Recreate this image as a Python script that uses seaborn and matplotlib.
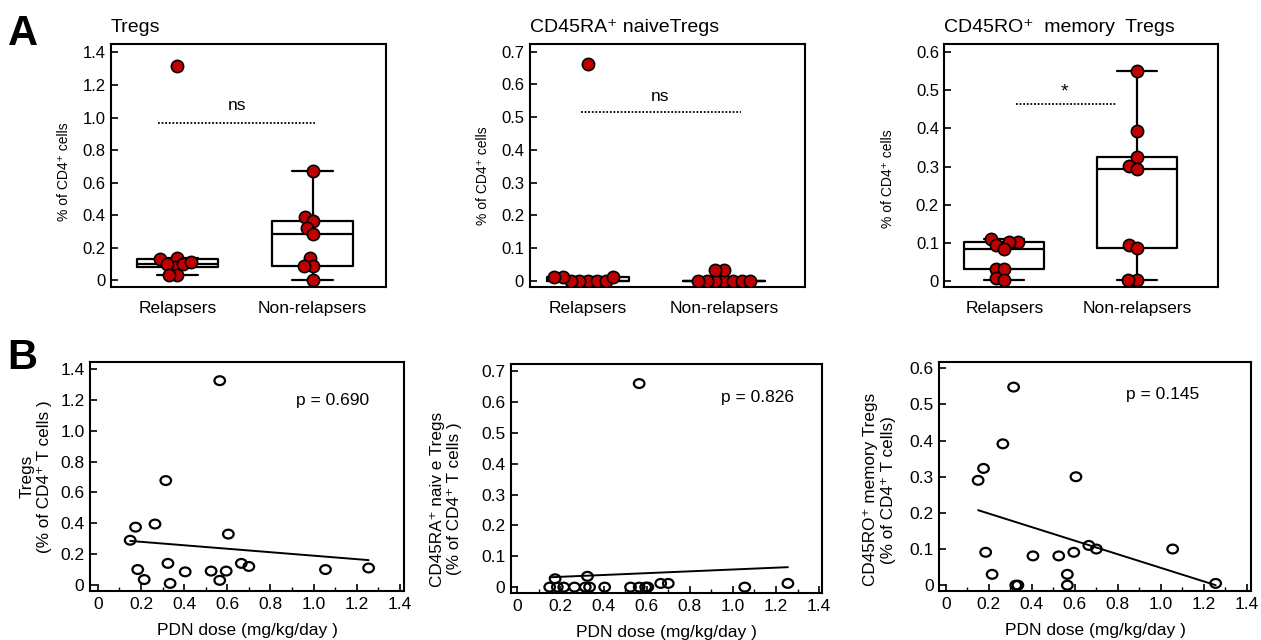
import numpy as np
import pandas as pd
import matplotlib
matplotlib.use("Agg")
import matplotlib.pyplot as plt
import seaborn as sns
from matplotlib.path import Path
from matplotlib.ticker import MultipleLocator, FuncFormatter

# ---- data ----
groups = ["Relapsers", "Non-relapsers"]

tregs_rel = [1.318, 0.129, 0.139, 0.080, 0.098, 0.098, 0.115, 0.031, 0.031]
tregs_non = [0.674, 0.389, 0.365, 0.320, 0.283, 0.139, 0.090, 0.090, 0.0]
naive_rel = [0.663, 0.0, 0.0, 0.0, 0.0, 0.0, 0.012, 0.012, 0.012]
naive_non = [0.0, 0.0, 0.0, 0.0, 0.0, 0.0, 0.0, 0.034, 0.034]
memory_rel = [0.112, 0.103, 0.103, 0.095, 0.085, 0.032, 0.032, 0.008, 0.003]
memory_non = [0.551, 0.392, 0.325, 0.303, 0.293, 0.095, 0.086, 0.003, 0.003]

pdn_dose = [0.15, 0.175, 0.185, 0.215, 0.265, 0.315, 0.325, 0.335, 0.405,
            0.525, 0.565, 0.565, 0.595, 0.605, 0.665, 0.70, 1.055, 1.255]
tregs_pdn = [0.29, 0.375, 0.10, 0.035, 0.395, 0.677, 0.14, 0.01, 0.085,
             0.09, 1.325, 0.03, 0.09, 0.33, 0.14, 0.12, 0.10, 0.11]
naive_pdn = [0.0, 0.027, 0.0, 0.0, 0.0, 0.0, 0.035, 0.0, 0.0,
             0.0, 0.66, 0.0, 0.0, 0.0, 0.012, 0.012, 0.0, 0.012]
memory_pdn = [0.29, 0.323, 0.091, 0.03, 0.391, 0.548, 0.0, 0.0, 0.081,
              0.081, 0.03, 0.0, 0.091, 0.30, 0.11, 0.10, 0.10, 0.005]

titles = ["Tregs", "CD45RA\u207a naiveTregs", "CD45RO\u207a  memory  Tregs"]
sig_labels = ["ns", "ns", "*"]
p_labels = ["p = 0.690", "p = 0.826", "p = 0.145"]
b_ylabels = ["Tregs\n(% of CD4\u207a T cells )",
             "CD45RA\u207a naiv e Tregs\n(% of CD4\u207a T cells )",
             "CD45RO\u207a memory Tregs\n(% of CD4\u207a T cells)"]

sns.set_theme(style="ticks")
plt.rcParams["font.family"] = ["Liberation Sans", "DejaVu Sans"]
plt.rcParams.update({
    "axes.linewidth": 1.5,
    "axes.edgecolor": "black",
    "text.color": "black",
    "axes.labelcolor": "black",
    "xtick.color": "black",
    "ytick.color": "black",
})

RED = "#c00000"


def num_fmt(v, pos=None):
    return "0" if abs(v) < 1e-9 else f"{v:.1f}"


fig = plt.figure(figsize=(12.61, 6.40), dpi=100)

# panel A layout (left, bottom, width, height) and axis settings
a_rects = [(0.088, 0.552, 0.218, 0.380),
           (0.420, 0.552, 0.218, 0.380),
           (0.749, 0.552, 0.217, 0.380)]
a_ylims = [(-0.04, 1.455), (-0.018, 0.725), (-0.014, 0.622)]
a_xlims = [(-0.49, 1.54), (-0.43, 1.59), (-0.45, 1.61)]
a_steps = [0.2, 0.1, 0.1]
a_ylab = [(8, 0.473), (8, 0.457), (15, 0.444)]  # labelpad, y position
a_sig = [(-0.14, 1.02, 0.965, 0.44, 1.03),
         (-0.05, 1.12, 0.517, 0.53, 0.54),
         (0.09, 0.84, 0.463, 0.455, 0.472)]

a_data = [(tregs_rel, tregs_non), (naive_rel, naive_non), (memory_rel, memory_non)]
swarms = []

for i, (rel, non) in enumerate(a_data):
    ax = fig.add_axes(a_rects[i])
    df = pd.DataFrame({
        "group": [groups[0]] * len(rel) + [groups[1]] * len(non),
        "value": rel + non,
    })
    sns.boxplot(data=df, x="group", y="value", order=groups, ax=ax,
                fill=False, color="black", linewidth=1.6, width=0.6,
                showfliers=False)
    n0 = len(ax.collections)
    # swarm laid out with small dots so the bigger dots overlap like the original
    sns.swarmplot(data=df, x="group", y="value", order=groups, ax=ax,
                  color=RED, edgecolor="black", linewidth=1.2, size=4.8)
    swarms.extend(ax.collections[n0:])
    ax.set_xlim(*a_xlims[i])
    ax.set_ylim(*a_ylims[i])
    ax.yaxis.set_major_locator(MultipleLocator(a_steps[i]))
    ax.yaxis.set_major_formatter(FuncFormatter(num_fmt))
    ax.tick_params(axis="y", direction="in", length=5, width=1.2,
                   labelsize=12, pad=4)
    ax.tick_params(axis="x", length=0, labelsize=12.5, pad=10)
    ax.set_xlabel("")
    pad, ypos = a_ylab[i]
    ax.set_ylabel("% of CD4\u207a cells", fontsize=10, labelpad=pad, y=ypos)
    for s in ax.spines.values():
        s.set_visible(True)
        s.set_linewidth(1.5)
    x0, x1, yl, xt, yt = a_sig[i]
    ax.plot([x0, x1], [yl, yl], color="black", lw=1.3, ls=(0, (1, 1)))
    ax.text(xt, yt, sig_labels[i], ha="center", va="bottom",
            fontsize=14 if sig_labels[i] == "*" else 12.5)
    ax.text(0.0, 1.03, titles[i], transform=ax.transAxes, ha="left",
            va="bottom", fontsize=14)

# panel B layout
b_rects = [(0.0714, 0.0766, 0.249, 0.358),
           (0.405, 0.073, 0.247, 0.359),
           (0.745, 0.0766, 0.247, 0.357)]
b_ylims = [(-0.039, 1.447), (-0.02, 0.725), (-0.016, 0.616)]
b_xlims = [(-0.036, 1.419), (-0.031, 1.414), (-0.03, 1.419)]
b_steps = [0.2, 0.1, 0.1]
b_ylab = [(6, 0.5), (13.5, 0.41), (10, 0.443)]
b_ptext = [(0.92, 1.195), (0.946, 0.615), (0.84, 0.527)]

# slightly wide ellipse marker like the original
circ = Path.unit_circle()
ellipse = Path(circ.vertices * np.array([1.2, 1.0]), circ.codes)

for i, yvals in enumerate([tregs_pdn, naive_pdn, memory_pdn]):
    ax = fig.add_axes(b_rects[i])
    df = pd.DataFrame({"dose": pdn_dose, "value": yvals})
    sns.regplot(data=df, x="dose", y="value", ax=ax, ci=None, scatter=False,
                truncate=True, line_kws={"color": "black", "lw": 1.4})
    sns.scatterplot(data=df, x="dose", y="value", ax=ax, marker=ellipse,
                    s=58, facecolor="none", edgecolor="black", linewidth=1.6)
    ax.set_xlim(*b_xlims[i])
    ax.set_ylim(*b_ylims[i])
    ax.xaxis.set_major_locator(MultipleLocator(0.2))
    ax.xaxis.set_minor_locator(MultipleLocator(0.1))
    ax.yaxis.set_major_locator(MultipleLocator(b_steps[i]))
    ax.xaxis.set_major_formatter(FuncFormatter(num_fmt))
    ax.yaxis.set_major_formatter(FuncFormatter(num_fmt))
    ax.tick_params(axis="both", which="major", direction="in", length=5,
                   width=1.2, labelsize=12.5, pad=4)
    ax.tick_params(axis="x", which="minor", direction="in", length=3,
                   width=1.0)
    ax.set_xlabel("PDN dose (mg/kg/day )", fontsize=12.5, labelpad=8)
    pad, ypos = b_ylab[i]
    ax.set_ylabel(b_ylabels[i], fontsize=12.3, labelpad=pad, y=ypos)
    for s in ax.spines.values():
        s.set_visible(True)
        s.set_linewidth(1.5)
    px, py = b_ptext[i]
    ax.text(px, py, p_labels[i], ha="left", va="center", fontsize=12.5)

fig.text(0.006, 0.930, "A", fontsize=30, fontweight="bold", ha="left", va="baseline")
fig.text(0.006, 0.423, "B", fontsize=30, fontweight="bold", ha="left", va="baseline")

# fix the swarm layout, then draw the dots at full size
fig.canvas.draw()
for coll in swarms:
    if "draw" in coll.__dict__:
        del coll.draw
    coll.set_sizes([8.8 ** 2])

fig.savefig("out.png", dpi=100)
